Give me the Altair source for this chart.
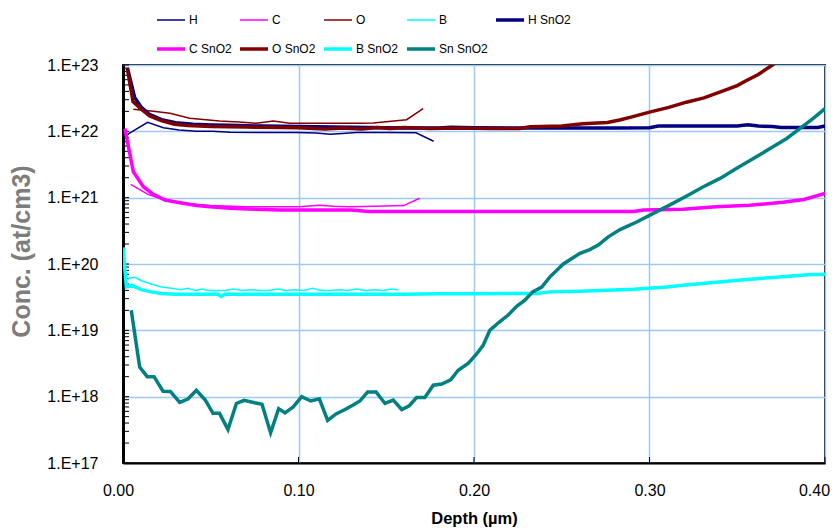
import altair as alt
import pandas as pd

SERIES = ["H", "C", "O", "B", "H SnO2", "C SnO2", "O SnO2", "B SnO2", "Sn SnO2"]
COLORS = ["#000080", "#FF00FF", "#800000", "#00FFFF", "#000080",
          "#FF00FF", "#800000", "#00FFFF", "#008080"]
WIDTHS = [1.5, 1.5, 1.5, 1.5, 3.5, 3.5, 3.5, 3.5, 3.5]

# ---- thin (reference) profiles ----
h_x = [0.0028, 0.014, 0.023, 0.032, 0.042, 0.051, 0.061, 0.08, 0.099, 0.11,
       0.118, 0.125, 0.133, 0.15, 0.167, 0.177]
h_y = [9.1e21, 1.37e22, 1.13e22, 1.05e22, 1.0e22, 1.0e22, 9.7e21, 9.6e21, 9.6e21, 9.4e21,
       9.0e21, 9.3e21, 9.6e21, 9.6e21, 9.5e21, 7.1e21]

c_x = [0.0044, 0.0142, 0.025, 0.035, 0.05, 0.07, 0.09, 0.10, 0.112, 0.12,
       0.129, 0.15, 0.16, 0.169]
c_y = [1.59e21, 1.12e21, 9.0e20, 8.2e20, 7.6e20, 7.3e20, 7.3e20, 7.3e20, 7.7e20, 7.4e20,
       7.3e20, 7.5e20, 7.6e20, 9.8e20]

o_x = [0.0059, 0.0173, 0.0268, 0.038, 0.055, 0.066, 0.076, 0.0857, 0.095, 0.115,
       0.135, 0.1426, 0.1616, 0.171]
o_y = [2.15e22, 2.0e22, 1.87e22, 1.57e22, 1.43e22, 1.38e22, 1.32e22, 1.43e22, 1.32e22, 1.32e22,
       1.32e22, 1.33e22, 1.5e22, 2.2e22]

b_x = [0.0028, 0.0067, 0.0104, 0.016, 0.022, 0.0275, 0.033, 0.037, 0.041, 0.045,
       0.049, 0.053, 0.058, 0.063, 0.068, 0.073, 0.078, 0.083, 0.088, 0.093,
       0.098, 0.103, 0.108, 0.113, 0.118, 0.123, 0.128, 0.133, 0.138, 0.143,
       0.148, 0.153, 0.157]
b_y = [6.1e19, 6.3e19, 5.6e19, 5.0e19, 4.5e19, 4.3e19, 4.1e19, 4.3e19, 4.0e19, 4.2e19,
       4.0e19, 4.0e19, 4.0e19, 4.2e19, 4.0e19, 4.1e19, 4.0e19, 4.0e19, 4.2e19, 4.0e19,
       4.1e19, 4.0e19, 4.3e19, 4.0e19, 4.0e19, 4.1e19, 4.0e19, 4.2e19, 4.0e19, 4.1e19,
       4.0e19, 4.2e19, 4.1e19]

# ---- thick (SnO2) profiles ----
hs_x = [0.0025, 0.0067, 0.0104, 0.015, 0.022, 0.03, 0.04, 0.05, 0.06, 0.07,
        0.08, 0.09, 0.10, 0.12, 0.14, 0.16, 0.18, 0.187, 0.20, 0.22,
        0.25, 0.28, 0.30, 0.305, 0.35, 0.356, 0.362, 0.37, 0.375, 0.39,
        0.396, 0.40]
hs_y = [9e22, 3.2e22, 2.3e22, 1.8e22, 1.5e22, 1.35e22, 1.28e22, 1.25e22, 1.23e22, 1.21e22,
        1.2e22, 1.19e22, 1.18e22, 1.16e22, 1.14e22, 1.12e22, 1.12e22, 1.15e22, 1.13e22, 1.12e22,
        1.12e22, 1.12e22, 1.13e22, 1.2e22, 1.2e22, 1.26e22, 1.2e22, 1.18e22, 1.14e22, 1.14e22,
        1.14e22, 1.2e22]

cs_x = [0.0011, 0.0059, 0.0116, 0.0173, 0.024, 0.0325, 0.042, 0.0496, 0.061, 0.075,
        0.09, 0.13, 0.14, 0.2, 0.25, 0.291, 0.2965, 0.319, 0.338, 0.357,
        0.376, 0.388, 0.40]
cs_y = [1.1e22, 2.46e21, 1.46e21, 1.12e21, 9.2e20, 8.4e20, 7.6e20, 7.3e20, 6.9e20, 6.7e20,
        6.5e20, 6.5e20, 6.2e20, 6.2e20, 6.2e20, 6.2e20, 6.5e20, 6.7e20, 7.3e20, 7.7e20,
        8.5e20, 9.4e20, 1.16e21]

os_x = [0.0025, 0.0057, 0.0104, 0.0152, 0.0218, 0.0294, 0.037, 0.05, 0.07, 0.09,
        0.10, 0.115, 0.125, 0.136, 0.145, 0.152, 0.16, 0.175, 0.19, 0.21,
        0.226, 0.232, 0.25, 0.262, 0.276, 0.283, 0.29, 0.30, 0.311, 0.321,
        0.331, 0.34, 0.35, 0.355, 0.362, 0.37, 0.376]
os_y = [8.8e22, 2.8e22, 2.15e22, 1.7e22, 1.45e22, 1.28e22, 1.22e22, 1.18e22, 1.16e22, 1.14e22,
        1.13e22, 1.08e22, 1.12e22, 1.08e22, 1.14e22, 1.1e22, 1.14e22, 1.1e22, 1.12e22, 1.1e22,
        1.1e22, 1.17e22, 1.2e22, 1.3e22, 1.36e22, 1.48e22, 1.65e22, 1.95e22, 2.3e22, 2.75e22,
        3.2e22, 3.9e22, 4.9e22, 5.8e22, 7.2e22, 1.0e23, 1.3e23]

bs_x = [0.0, 0.0019, 0.0047, 0.0104, 0.016, 0.022, 0.03, 0.04, 0.054, 0.056,
        0.058, 0.08, 0.1, 0.13, 0.16, 0.18, 0.2, 0.22, 0.236, 0.243,
        0.26, 0.272, 0.291, 0.31, 0.319, 0.338, 0.357, 0.376, 0.39, 0.40]
bs_y = [1.78e20, 4.5e19, 4.8e19, 4.1e19, 3.8e19, 3.6e19, 3.5e19, 3.5e19, 3.5e19, 3.25e19,
        3.5e19, 3.5e19, 3.5e19, 3.5e19, 3.5e19, 3.55e19, 3.55e19, 3.6e19, 3.6e19, 3.8e19,
        3.9e19, 4.0e19, 4.15e19, 4.5e19, 4.8e19, 5.3e19, 5.9e19, 6.4e19, 6.9e19, 7.0e19]

sn_x = [0.0047, 0.0095, 0.0138, 0.0177, 0.0228, 0.027, 0.0323, 0.037, 0.0418, 0.0469,
        0.0513, 0.055, 0.0598, 0.0646, 0.069, 0.075, 0.0792, 0.0841, 0.0887, 0.0923,
        0.097, 0.1018, 0.107, 0.1119, 0.1166, 0.1214, 0.1265, 0.1309, 0.135, 0.1394,
        0.1442, 0.1493, 0.154, 0.1588, 0.1631, 0.1673, 0.172, 0.1768, 0.1816, 0.1867,
        0.191, 0.1968, 0.2015, 0.2053, 0.209, 0.2139, 0.2195, 0.2243, 0.229, 0.2334,
        0.2386, 0.2433, 0.2509, 0.2604, 0.266, 0.2708, 0.2765, 0.2832, 0.2927, 0.3022,
        0.3117, 0.3212, 0.3307, 0.3402, 0.3497, 0.3592, 0.3687, 0.3782, 0.3858, 0.3933,
        0.40]
sn_y = [2e19, 2.8e18, 2e18, 2e18, 1.21e18, 1.2e18, 8.2e17, 9.2e17, 1.25e18, 8.9e17,
        5.6e17, 5.6e17, 3.2e17, 7.9e17, 8.8e17, 8.1e17, 7.7e17, 2.85e17, 6.6e17, 5.7e17,
        7.0e17, 1.0e18, 8.6e17, 9.3e17, 4.4e17, 5.5e17, 6.4e17, 7.4e17, 8.6e17, 1.18e18,
        1.18e18, 7.9e17, 8.9e17, 6.4e17, 7.3e17, 9.7e17, 9.7e17, 1.49e18, 1.55e18, 1.8e18,
        2.5e18, 3.2e18, 4.4e18, 6e18, 1e19, 1.3e19, 1.7e19, 2.3e19, 2.85e19, 3.8e19,
        4.5e19, 6.4e19, 1e20, 1.45e20, 1.65e20, 1.93e20, 2.57e20, 3.3e20, 4.3e20, 5.8e20,
        7.8e20, 1.06e21, 1.46e21, 1.95e21, 2.77e21, 3.9e21, 5.5e21, 7.8e21, 1.11e22, 1.57e22,
        2.2e22]

X_TICKS = [0.0, 0.1, 0.2, 0.3, 0.4]
Y_DECADES = [1e17, 1e18, 1e19, 1e20, 1e21, 1e22, 1e23]

profiles = [(h_x, h_y), (c_x, c_y), (o_x, o_y), (b_x, b_y),
            (hs_x, hs_y), (cs_x, cs_y), (os_x, os_y), (bs_x, bs_y), (sn_x, sn_y)]

rows = []
for name, (xs, ys) in zip(SERIES, profiles):
    for i, (x, y) in enumerate(zip(xs, ys, strict=True)):
        rows.append({"series": name, "depth": x, "conc": y, "i": i})
df = pd.DataFrame(rows)

W, H = 702, 398
FONT = "Liberation Sans"

xscale = alt.Scale(domain=[0, 0.4], nice=False, zero=False)
yscale = alt.Scale(type="log", domain=[1e17, 1e23], nice=False)

legend = alt.Legend(
    title=None, orient="none", legendX=32, legendY=-61, columns=5,
    direction="horizontal", symbolType="stroke", symbolSize=784,
    labelFont=FONT, labelFontSize=12, labelColor="black",
    columnPadding=1, rowPadding=6, labelOffset=2, padding=0,
)

x_label_offset = {
    "condition": [
        {"test": "datum.value < 0.05", "value": -5},
        {"test": "datum.value > 0.35", "value": -11},
    ],
    "value": 0,
}

lines = alt.Chart(df).mark_line(clip=True).encode(
    x=alt.X("depth:Q", scale=xscale,
            axis=alt.Axis(values=X_TICKS, format=".2f", title="Depth (µm)",
                          grid=True, ticks=False, labelPadding=19,
                          labelFlush=False, labelOffset=x_label_offset,
                          titlePadding=12)),
    y=alt.Y("conc:Q", scale=yscale,
            axis=alt.Axis(values=Y_DECADES, title="Conc.  (at/cm3)",
                          labelExpr="'1.E+' + round(log(datum.value) / LN10)",
                          grid=True, ticks=False, labelPadding=25,
                          labelFlush=False, titlePadding=12, titleY=186)),
    color=alt.Color("series:N", scale=alt.Scale(domain=SERIES, range=COLORS),
                    legend=legend, sort=SERIES),
    strokeWidth=alt.StrokeWidth("series:N",
                                scale=alt.Scale(type="ordinal", domain=SERIES, range=WIDTHS),
                                legend=legend, sort=SERIES),
    order="i:Q",
)

minor = []
for d in Y_DECADES[:-1]:
    for m in range(1, 10):
        minor.append(d * m)
minor.append(Y_DECADES[-1])
ytick_df = pd.DataFrame({"conc": minor})
yticks = alt.Chart(ytick_df).mark_rule(color="black", strokeWidth=1).encode(
    y=alt.Y("conc:Q", scale=yscale),
    x=alt.value(0), x2=alt.value(6),
)
xtick_df = pd.DataFrame({"depth": X_TICKS})
xticks = alt.Chart(xtick_df).mark_rule(color="black", strokeWidth=1).encode(
    x=alt.X("depth:Q", scale=xscale),
    y=alt.value(H), y2=alt.value(H - 6),
)

chart = alt.layer(yticks, xticks, lines).properties(
    width=W, height=H,
    autosize=alt.AutoSizeParams(type="none"),
    padding={"left": 115, "top": 57, "right": 5, "bottom": 64},
).configure_view(
    stroke="#1a1a1a", strokeWidth=2,
).configure_axis(
    labelFont=FONT, labelFontSize=16, labelColor="black",
    titleFont=FONT, gridColor="#9CC9F5", gridWidth=1.5,
    domainColor="black",
).configure_axisX(
    domainWidth=2, titleFontSize=16.5, titleFontWeight="bold", titleColor="black",
).configure_axisY(
    domainWidth=3, titleFontSize=25, titleFontWeight="bold", titleColor="#7d7d7d",
)

chart.save("out.html", embed_options={"renderer": "svg", "actions": False})
